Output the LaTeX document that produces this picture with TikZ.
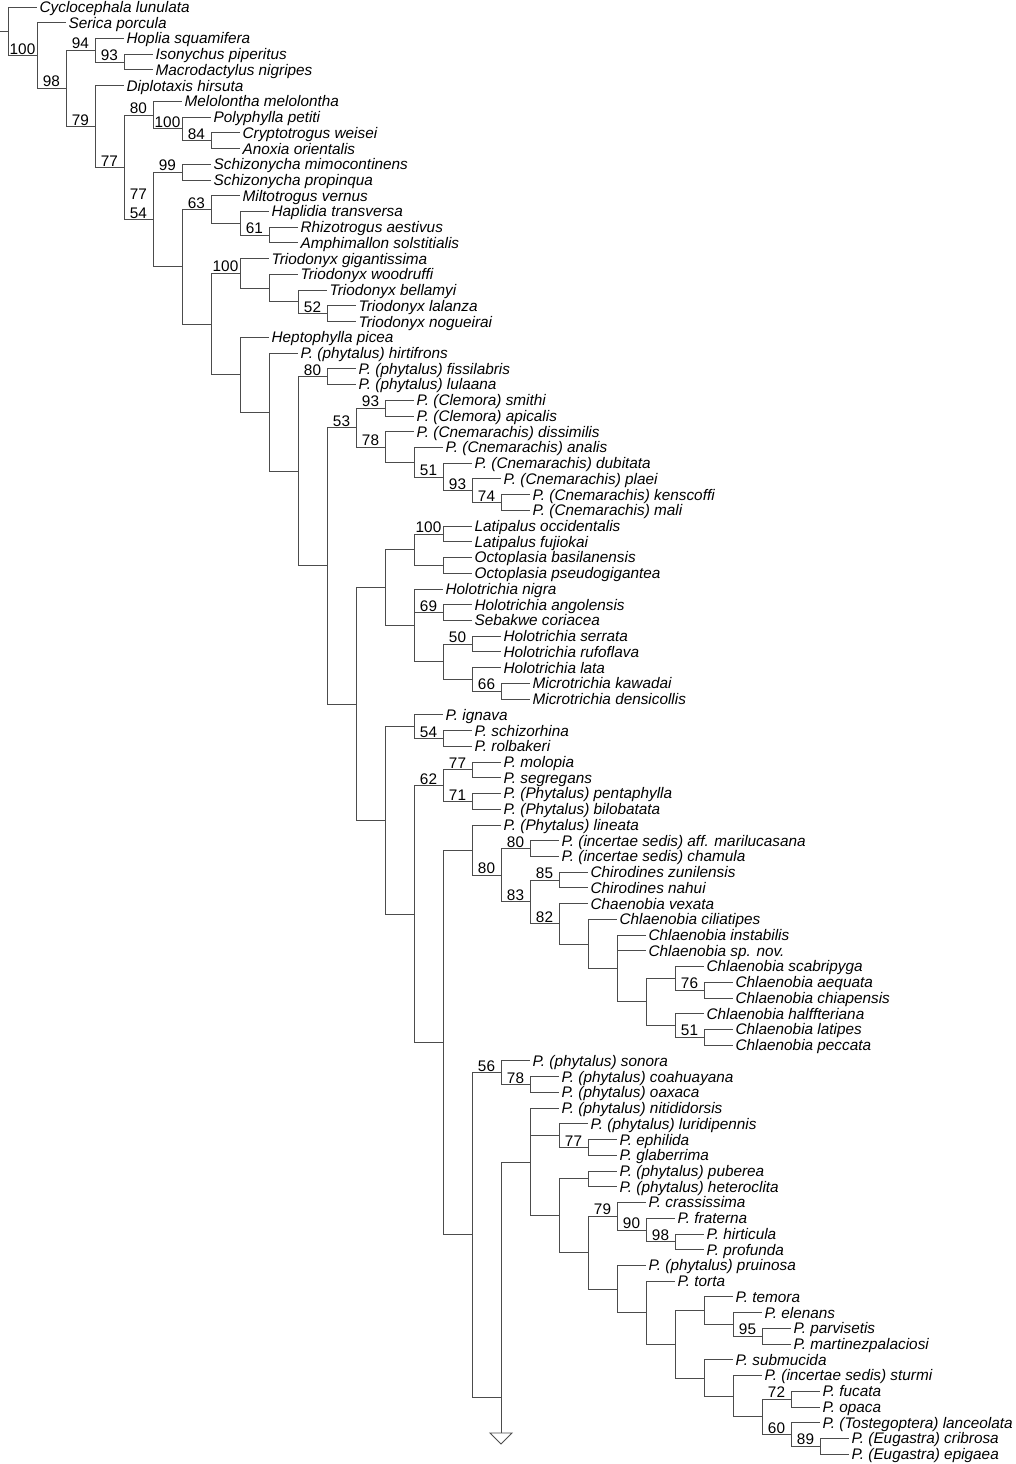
\documentclass[tikz,border=0pt]{standalone}
\usepackage{fontspec}
\setmainfont{Liberation Sans}
\tikzset{every picture/.style={line width=0.75pt}}
\tikzset{
	branch/.style={draw=black!70, line width=0.7pt},
	taxon/.style={anchor=west, inner xsep=1.6pt, inner ysep=0pt, text height=8.2pt, text depth=0pt, font=\fontsize{11.5}{13.8}\selectfont\itshape},
	boot/.style={pos=0.75, above, inner sep=0.6pt, align=center, font=\fontsize{11.5}{14}\selectfont}}

\begin{document}
\begin{tikzpicture}[x=0.75pt,y=0.75pt,yscale=-1,xscale=1]
	\useasboundingbox (0,0) rectangle (1015,1464);

	% Taxa
	\node[taxon] (cyclo) at (37,7.0) {Cyclocephala lunulata};
	\node[taxon] (serica) at (66,22.7) {Serica porcula};
	\node[taxon] (hoplia) at (124,38.5) {Hoplia squamifera};
	\node[taxon] (isony) at (153,54.2) {Isonychus piperitus};
	\node[taxon] (macro) at (153,69.9) {Macrodactylus nigripes};
	\node[taxon] (diplo) at (124,85.7) {Diplotaxis hirsuta};
	\node[taxon] (melo) at (182,101.4) {Melolontha melolontha};
	\node[taxon] (polyph) at (211,117.1) {Polyphylla petiti};
	\node[taxon] (crypto) at (240,132.8) {Cryptotrogus weisei};
	\node[taxon] (anoxia) at (240,148.6) {Anoxia orientalis};
	\node[taxon] (schizA) at (211,164.3) {Schizonycha mimocontinens};
	\node[taxon] (schizB) at (211,180.0) {Schizonycha propinqua};
	\node[taxon] (milto) at (240,195.8) {Miltotrogus vernus};
	\node[taxon] (haplid) at (269,211.5) {Haplidia transversa};
	\node[taxon] (rhizo) at (298,227.2) {Rhizotrogus aestivus};
	\node[taxon] (amphi) at (298,242.9) {Amphimallon solstitialis};
	\node[taxon] (triGig) at (269,258.7) {Triodonyx gigantissima};
	\node[taxon] (triWoo) at (298,274.4) {Triodonyx woodruffi};
	\node[taxon] (triBel) at (327,290.1) {Triodonyx bellamyi};
	\node[taxon] (triLal) at (356,305.9) {Triodonyx lalanza};
	\node[taxon] (triNog) at (356,321.6) {Triodonyx nogueirai};
	\node[taxon] (hepto) at (269,337.3) {Heptophylla picea};
	\node[taxon] (hirti) at (298,353.1) {P. (phytalus) hirtifrons};
	\node[taxon] (fissi) at (356,368.8) {P. (phytalus) fissilabris};
	\node[taxon] (lulaa) at (356,384.5) {P. (phytalus) lulaana};
	\node[taxon] (smithi) at (414,400.2) {P. (Clemora) smithi};
	\node[taxon] (apical) at (414,416.0) {P. (Clemora) apicalis};
	\node[taxon] (dissim) at (414,431.7) {P. (Cnemarachis) dissimilis};
	\node[taxon] (analis) at (443,447.4) {P. (Cnemarachis) analis};
	\node[taxon] (dubit) at (472,463.2) {P. (Cnemarachis) dubitata};
	\node[taxon] (plaei) at (501,478.9) {P. (Cnemarachis) plaei};
	\node[taxon] (kensc) at (530,494.6) {P. (Cnemarachis) kenscoffi};
	\node[taxon] (mali) at (530,510.4) {P. (Cnemarachis) mali};
	\node[taxon] (latOcc) at (472,526.1) {Latipalus occidentalis};
	\node[taxon] (latFuj) at (472,541.8) {Latipalus fujiokai};
	\node[taxon] (octBas) at (472,557.5) {Octoplasia basilanensis};
	\node[taxon] (octPse) at (472,573.3) {Octoplasia pseudogigantea};
	\node[taxon] (holNig) at (443,589.0) {Holotrichia nigra};
	\node[taxon] (holAng) at (472,604.7) {Holotrichia angolensis};
	\node[taxon] (sebak) at (472,620.5) {Sebakwe coriacea};
	\node[taxon] (holSer) at (501,636.2) {Holotrichia serrata};
	\node[taxon] (holRuf) at (501,651.9) {Holotrichia rufoflava};
	\node[taxon] (holLat) at (501,667.7) {Holotrichia lata};
	\node[taxon] (micKaw) at (530,683.4) {Microtrichia kawadai};
	\node[taxon] (micDen) at (530,699.1) {Microtrichia densicollis};
	\node[taxon] (ignava) at (443,714.9) {P. ignava};
	\node[taxon] (schizo) at (472,730.6) {P. schizorhina};
	\node[taxon] (rolbak) at (472,746.3) {P. rolbakeri};
	\node[taxon] (molop) at (501,762.0) {P. molopia};
	\node[taxon] (segreg) at (501,777.8) {P. segregans};
	\node[taxon] (penta) at (501,793.5) {P. (Phytalus) pentaphylla};
	\node[taxon] (bilob) at (501,809.2) {P. (Phytalus) bilobatata};
	\node[taxon] (linea) at (501,825.0) {P. (Phytalus) lineata};
	\node[taxon] (marilu) at (559,840.7) {P. (incertae sedis) aff. marilucasana};
	\node[taxon] (chamul) at (559,856.4) {P. (incertae sedis) chamula};
	\node[taxon] (chiZun) at (588,872.2) {Chirodines zunilensis};
	\node[taxon] (chiNah) at (588,887.9) {Chirodines nahui};
	\node[taxon] (vexata) at (588,903.6) {Chaenobia vexata};
	\node[taxon] (cilia) at (617,919.4) {Chlaenobia ciliatipes};
	\node[taxon] (instab) at (646,935.1) {Chlaenobia instabilis};
	\node[taxon] (spnov) at (646,950.8) {Chlaenobia sp. nov.};
	\node[taxon] (scabri) at (704,966.5) {Chlaenobia scabripyga};
	\node[taxon] (aequa) at (733,982.3) {Chlaenobia aequata};
	\node[taxon] (chiap) at (733,998.0) {Chlaenobia chiapensis};
	\node[taxon] (halff) at (704,1013.7) {Chlaenobia halffteriana};
	\node[taxon] (latip) at (733,1029.5) {Chlaenobia latipes};
	\node[taxon] (pecca) at (733,1045.2) {Chlaenobia peccata};
	\node[taxon] (sonora) at (530,1060.9) {P. (phytalus) sonora};
	\node[taxon] (coahu) at (559,1076.7) {P. (phytalus) coahuayana};
	\node[taxon] (oaxaca) at (559,1092.4) {P. (phytalus) oaxaca};
	\node[taxon] (nitid) at (559,1108.1) {P. (phytalus) nitididorsis};
	\node[taxon] (lurid) at (588,1123.9) {P. (phytalus) luridipennis};
	\node[taxon] (ephil) at (617,1139.6) {P. ephilida};
	\node[taxon] (glaber) at (617,1155.3) {P. glaberrima};
	\node[taxon] (puber) at (617,1171.0) {P. (phytalus) puberea};
	\node[taxon] (hetero) at (617,1186.8) {P. (phytalus) heteroclita};
	\node[taxon] (crass) at (646,1202.5) {P. crassissima};
	\node[taxon] (frat) at (675,1218.2) {P. fraterna};
	\node[taxon] (hirtic) at (704,1234.0) {P. hirticula};
	\node[taxon] (profun) at (704,1249.7) {P. profunda};
	\node[taxon] (pruin) at (646,1265.4) {P. (phytalus) pruinosa};
	\node[taxon] (torta) at (675,1281.2) {P. torta};
	\node[taxon] (temora) at (733,1296.9) {P. temora};
	\node[taxon] (elen) at (762,1312.6) {P. elenans};
	\node[taxon] (parvi) at (791,1328.4) {P. parvisetis};
	\node[taxon] (martin) at (791,1344.1) {P. martinezpalaciosi};
	\node[taxon] (submuc) at (733,1359.8) {P. submucida};
	\node[taxon] (sturmi) at (762,1375.5) {P. (incertae sedis) sturmi};
	\node[taxon] (fucata) at (820,1391.3) {P. fucata};
	\node[taxon] (opaca) at (820,1407.0) {P. opaca};
	\node[taxon] (lanceo) at (820,1422.7) {P. (Tostegoptera) lanceolata};
	\node[taxon] (cribro) at (849,1438.4) {P. (Eugastra) cribrosa};
	\node[taxon] (epigae) at (849,1454.2) {P. (Eugastra) epigaea};

	% Internal nodes
	\coordinate (stem) at (0,31.3);
	\coordinate (cR) at (8,31.3);
	\coordinate (cA) at (37,55.5);
	\coordinate (cB) at (66,88.4);
	\coordinate (cC) at (95,50.3);
	\coordinate (cE) at (124,62.0);
	\coordinate (cD) at (95,126.5);
	\coordinate (cF) at (124,167.3);
	\coordinate (cG) at (153,115.2);
	\coordinate (cI) at (182,128.9);
	\coordinate (cJ) at (211,140.7);
	\coordinate (cH) at (153,219.5);
	\coordinate (cK) at (182,172.2);
	\coordinate (cL) at (182,266.8);
	\coordinate (cM) at (211,209.6);
	\coordinate (cO) at (240,223.3);
	\coordinate (cP) at (269,235.1);
	\coordinate (cN) at (211,324.1);
	\coordinate (cQ) at (240,273.4);
	\coordinate (cT) at (269,288.2);
	\coordinate (cU) at (298,301.9);
	\coordinate (cV) at (327,313.8);
	\coordinate (cS) at (240,374.7);
	\coordinate (cW) at (269,412.2);
	\coordinate (cX) at (298,471.2);
	\coordinate (cY) at (327,376.7);
	\coordinate (cZ) at (327,565.7);
	\coordinate (cAA) at (356,427.5);
	\coordinate (cAC) at (385,408.1);
	\coordinate (cAD) at (385,447.0);
	\coordinate (cAE) at (414,462.2);
	\coordinate (cAF) at (443,477.0);
	\coordinate (cAG) at (472,490.7);
	\coordinate (cAH) at (501,502.5);
	\coordinate (cAB) at (356,704.0);
	\coordinate (cAI) at (385,587.6);
	\coordinate (cAK) at (414,549.7);
	\coordinate (cAM) at (443,534.0);
	\coordinate (cAN) at (443,565.4);
	\coordinate (cAL) at (414,625.4);
	\coordinate (cAO) at (443,612.6);
	\coordinate (cAP) at (443,661.8);
	\coordinate (cAQ) at (472,644.1);
	\coordinate (cAR) at (472,679.5);
	\coordinate (cAS) at (501,691.3);
	\coordinate (cAJ) at (385,820.4);
	\coordinate (cAT) at (414,726.7);
	\coordinate (cAV) at (443,738.5);
	\coordinate (cAU) at (414,914.1);
	\coordinate (cAW) at (443,785.6);
	\coordinate (cAY) at (472,769.9);
	\coordinate (cAZ) at (472,801.4);
	\coordinate (cAX) at (443,1042.5);
	\coordinate (cBA) at (472,850.1);
	\coordinate (cBC) at (501,875.2);
	\coordinate (cBD) at (530,848.6);
	\coordinate (cBE) at (530,901.9);
	\coordinate (cBF) at (559,880.1);
	\coordinate (cBG) at (559,923.8);
	\coordinate (cBH) at (588,944.0);
	\coordinate (cBI) at (617,968.5);
	\coordinate (cBJ) at (646,1001.9);
	\coordinate (cBK) at (675,978.3);
	\coordinate (cBM) at (704,990.2);
	\coordinate (cBL) at (675,1025.5);
	\coordinate (cBN) at (704,1037.4);
	\coordinate (cBB) at (472,1234.9);
	\coordinate (cBO) at (501,1072.7);
	\coordinate (cBQ) at (530,1084.6);
	\coordinate (cBP) at (501,1397.0);
	\coordinate (cBR) at (530,1162.0);
	\coordinate (cBS) at (559,1135.7);
	\coordinate (cCL) at (588,1147.5);
	\coordinate (cBT) at (559,1215.8);
	\coordinate (cBU) at (588,1178.9);
	\coordinate (cBV) at (588,1252.7);
	\coordinate (cBW) at (617,1216.3);
	\coordinate (cBY) at (646,1230.0);
	\coordinate (cBZ) at (675,1241.9);
	\coordinate (cBX) at (617,1289.1);
	\coordinate (cCA) at (646,1312.8);
	\coordinate (cCB) at (675,1344.3);
	\coordinate (cCC) at (704,1310.7);
	\coordinate (cCE) at (733,1324.4);
	\coordinate (cCF) at (762,1336.3);
	\coordinate (cCD) at (704,1378.0);
	\coordinate (cCG) at (733,1396.2);
	\coordinate (cCH) at (762,1416.8);
	\coordinate (cCI) at (791,1399.2);
	\coordinate (cCJ) at (791,1434.5);
	\coordinate (cCK) at (820,1446.3);
	\coordinate (more) at (501,1433);

	% Branches, one path per parent
	\draw[branch] (stem) -- (cR);
	\draw[branch] (cR) |- (cyclo.west) (cR) |- node[boot]{100} (cA);
	\draw[branch] (cA) |- (serica.west) (cA) |- node[boot]{98} (cB);
	\draw[branch] (cB) |- node[boot]{94} (cC) (cB) |- node[boot]{79} (cD);
	\draw[branch] (cC) |- (hoplia.west) (cC) |- node[boot]{93} (cE);
	\draw[branch] (cE) |- (isony.west) (cE) |- (macro.west);
	\draw[branch] (cD) |- (diplo.west) (cD) |- node[boot]{77} (cF);
	\draw[branch] (cF) |- node[boot]{80} (cG) (cF) |- node[boot]{77\\54} (cH);
	\draw[branch] (cG) |- (melo.west) (cG) |- node[boot]{100} (cI);
	\draw[branch] (cI) |- (polyph.west) (cI) |- node[boot]{84} (cJ);
	\draw[branch] (cJ) |- (crypto.west) (cJ) |- (anoxia.west);
	\draw[branch] (cH) |- node[boot]{99} (cK) (cH) |- (cL);
	\draw[branch] (cK) |- (schizA.west) (cK) |- (schizB.west);
	\draw[branch] (cL) |- node[boot]{63} (cM) (cL) |- (cN);
	\draw[branch] (cM) |- (milto.west) (cM) |- (cO);
	\draw[branch] (cO) |- (haplid.west) (cO) |- node[boot]{61} (cP);
	\draw[branch] (cP) |- (rhizo.west) (cP) |- (amphi.west);
	\draw[branch] (cN) |- node[boot]{100} (cQ) (cN) |- (cS);
	\draw[branch] (cQ) |- (triGig.west) (cQ) |- (cT);
	\draw[branch] (cT) |- (triWoo.west) (cT) |- (cU);
	\draw[branch] (cU) |- (triBel.west) (cU) |- node[boot]{52} (cV);
	\draw[branch] (cV) |- (triLal.west) (cV) |- (triNog.west);
	\draw[branch] (cS) |- (hepto.west) (cS) |- (cW);
	\draw[branch] (cW) |- (hirti.west) (cW) |- (cX);
	\draw[branch] (cX) |- node[boot]{80} (cY) (cX) |- (cZ);
	\draw[branch] (cY) |- (fissi.west) (cY) |- (lulaa.west);
	\draw[branch] (cZ) |- node[boot]{53} (cAA) (cZ) |- (cAB);
	\draw[branch] (cAA) |- node[boot]{93} (cAC) (cAA) |- node[boot]{78} (cAD);
	\draw[branch] (cAC) |- (smithi.west) (cAC) |- (apical.west);
	\draw[branch] (cAD) |- (dissim.west) (cAD) |- (cAE);
	\draw[branch] (cAE) |- (analis.west) (cAE) |- node[boot]{51} (cAF);
	\draw[branch] (cAF) |- (dubit.west) (cAF) |- node[boot]{93} (cAG);
	\draw[branch] (cAG) |- (plaei.west) (cAG) |- node[boot]{74} (cAH);
	\draw[branch] (cAH) |- (kensc.west) (cAH) |- (mali.west);
	\draw[branch] (cAB) |- (cAI) (cAB) |- (cAJ);
	\draw[branch] (cAI) |- (cAK) (cAI) |- (cAL);
	\draw[branch] (cAK) |- node[boot]{100} (cAM) (cAK) |- (cAN);
	\draw[branch] (cAM) |- (latOcc.west) (cAM) |- (latFuj.west);
	\draw[branch] (cAN) |- (octBas.west) (cAN) |- (octPse.west);
	\draw[branch] (cAL) |- (holNig.west) (cAL) |- node[boot]{69} (cAO) (cAL) |- (cAP);
	\draw[branch] (cAO) |- (holAng.west) (cAO) |- (sebak.west);
	\draw[branch] (cAP) |- node[boot]{50} (cAQ) (cAP) |- (cAR);
	\draw[branch] (cAQ) |- (holSer.west) (cAQ) |- (holRuf.west);
	\draw[branch] (cAR) |- (holLat.west) (cAR) |- node[boot]{66} (cAS);
	\draw[branch] (cAS) |- (micKaw.west) (cAS) |- (micDen.west);
	\draw[branch] (cAJ) |- (cAT) (cAJ) |- (cAU);
	\draw[branch] (cAT) |- (ignava.west) (cAT) |- node[boot]{54} (cAV);
	\draw[branch] (cAV) |- (schizo.west) (cAV) |- (rolbak.west);
	\draw[branch] (cAU) |- node[boot]{62} (cAW) (cAU) |- (cAX);
	\draw[branch] (cAW) |- node[boot]{77} (cAY) (cAW) |- node[boot]{71} (cAZ);
	\draw[branch] (cAY) |- (molop.west) (cAY) |- (segreg.west);
	\draw[branch] (cAZ) |- (penta.west) (cAZ) |- (bilob.west);
	\draw[branch] (cAX) |- (cBA) (cAX) |- (cBB);
	\draw[branch] (cBA) |- (linea.west) (cBA) |- node[boot]{80} (cBC);
	\draw[branch] (cBC) |- node[boot]{80} (cBD) (cBC) |- node[boot]{83} (cBE);
	\draw[branch] (cBD) |- (marilu.west) (cBD) |- (chamul.west);
	\draw[branch] (cBE) |- node[boot]{85} (cBF) (cBE) |- node[boot]{82} (cBG);
	\draw[branch] (cBF) |- (chiZun.west) (cBF) |- (chiNah.west);
	\draw[branch] (cBG) |- (vexata.west) (cBG) |- (cBH);
	\draw[branch] (cBH) |- (cilia.west) (cBH) |- (cBI);
	\draw[branch] (cBI) |- (instab.west) (cBI) |- (spnov.west) (cBI) |- (cBJ);
	\draw[branch] (cBJ) |- (cBK) (cBJ) |- (cBL);
	\draw[branch] (cBK) |- (scabri.west) (cBK) |- node[boot]{76} (cBM);
	\draw[branch] (cBM) |- (aequa.west) (cBM) |- (chiap.west);
	\draw[branch] (cBL) |- (halff.west) (cBL) |- node[boot]{51} (cBN);
	\draw[branch] (cBN) |- (latip.west) (cBN) |- (pecca.west);
	\draw[branch] (cBB) |- node[boot]{56} (cBO) (cBB) |- (cBP);
	\draw[branch] (cBO) |- (sonora.west) (cBO) |- node[boot]{78} (cBQ);
	\draw[branch] (cBQ) |- (coahu.west) (cBQ) |- (oaxaca.west);
	\draw[branch] (cBP) |- (cBR) (cBP) -- (more);
	\draw[branch] (cBR) |- (nitid.west) (cBR) |- (cBS) (cBR) |- (cBT);
	\draw[branch] (cBS) |- (lurid.west) (cBS) |- node[boot]{77} (cCL);
	\draw[branch] (cCL) |- (ephil.west) (cCL) |- (glaber.west);
	\draw[branch] (cBT) |- (cBU) (cBT) |- (cBV);
	\draw[branch] (cBU) |- (puber.west) (cBU) |- (hetero.west);
	\draw[branch] (cBV) |- node[boot]{79} (cBW) (cBV) |- (cBX);
	\draw[branch] (cBW) |- (crass.west) (cBW) |- node[boot]{90} (cBY);
	\draw[branch] (cBY) |- (frat.west) (cBY) |- node[boot]{98} (cBZ);
	\draw[branch] (cBZ) |- (hirtic.west) (cBZ) |- (profun.west);
	\draw[branch] (cBX) |- (pruin.west) (cBX) |- (cCA);
	\draw[branch] (cCA) |- (torta.west) (cCA) |- (cCB);
	\draw[branch] (cCB) |- (cCC) (cCB) |- (cCD);
	\draw[branch] (cCC) |- (temora.west) (cCC) |- (cCE);
	\draw[branch] (cCE) |- (elen.west) (cCE) |- node[boot]{95} (cCF);
	\draw[branch] (cCF) |- (parvi.west) (cCF) |- (martin.west);
	\draw[branch] (cCD) |- (submuc.west) (cCD) |- (cCG);
	\draw[branch] (cCG) |- (sturmi.west) (cCG) |- (cCH);
	\draw[branch] (cCH) |- node[boot]{72} (cCI) (cCH) |- node[boot]{60} (cCJ);
	\draw[branch] (cCI) |- (fucata.west) (cCI) |- (opaca.west);
	\draw[branch] (cCJ) |- (lanceo.west) (cCJ) |- node[boot]{89} (cCK);
	\draw[branch] (cCK) |- (cribro.west) (cCK) |- (epigae.west);

	% Continuation mark
	\draw[branch] (more) -- ++(-11,0) -- ++(11,11) -- ++(11,-11) -- cycle;

\end{tikzpicture}
\end{document}
